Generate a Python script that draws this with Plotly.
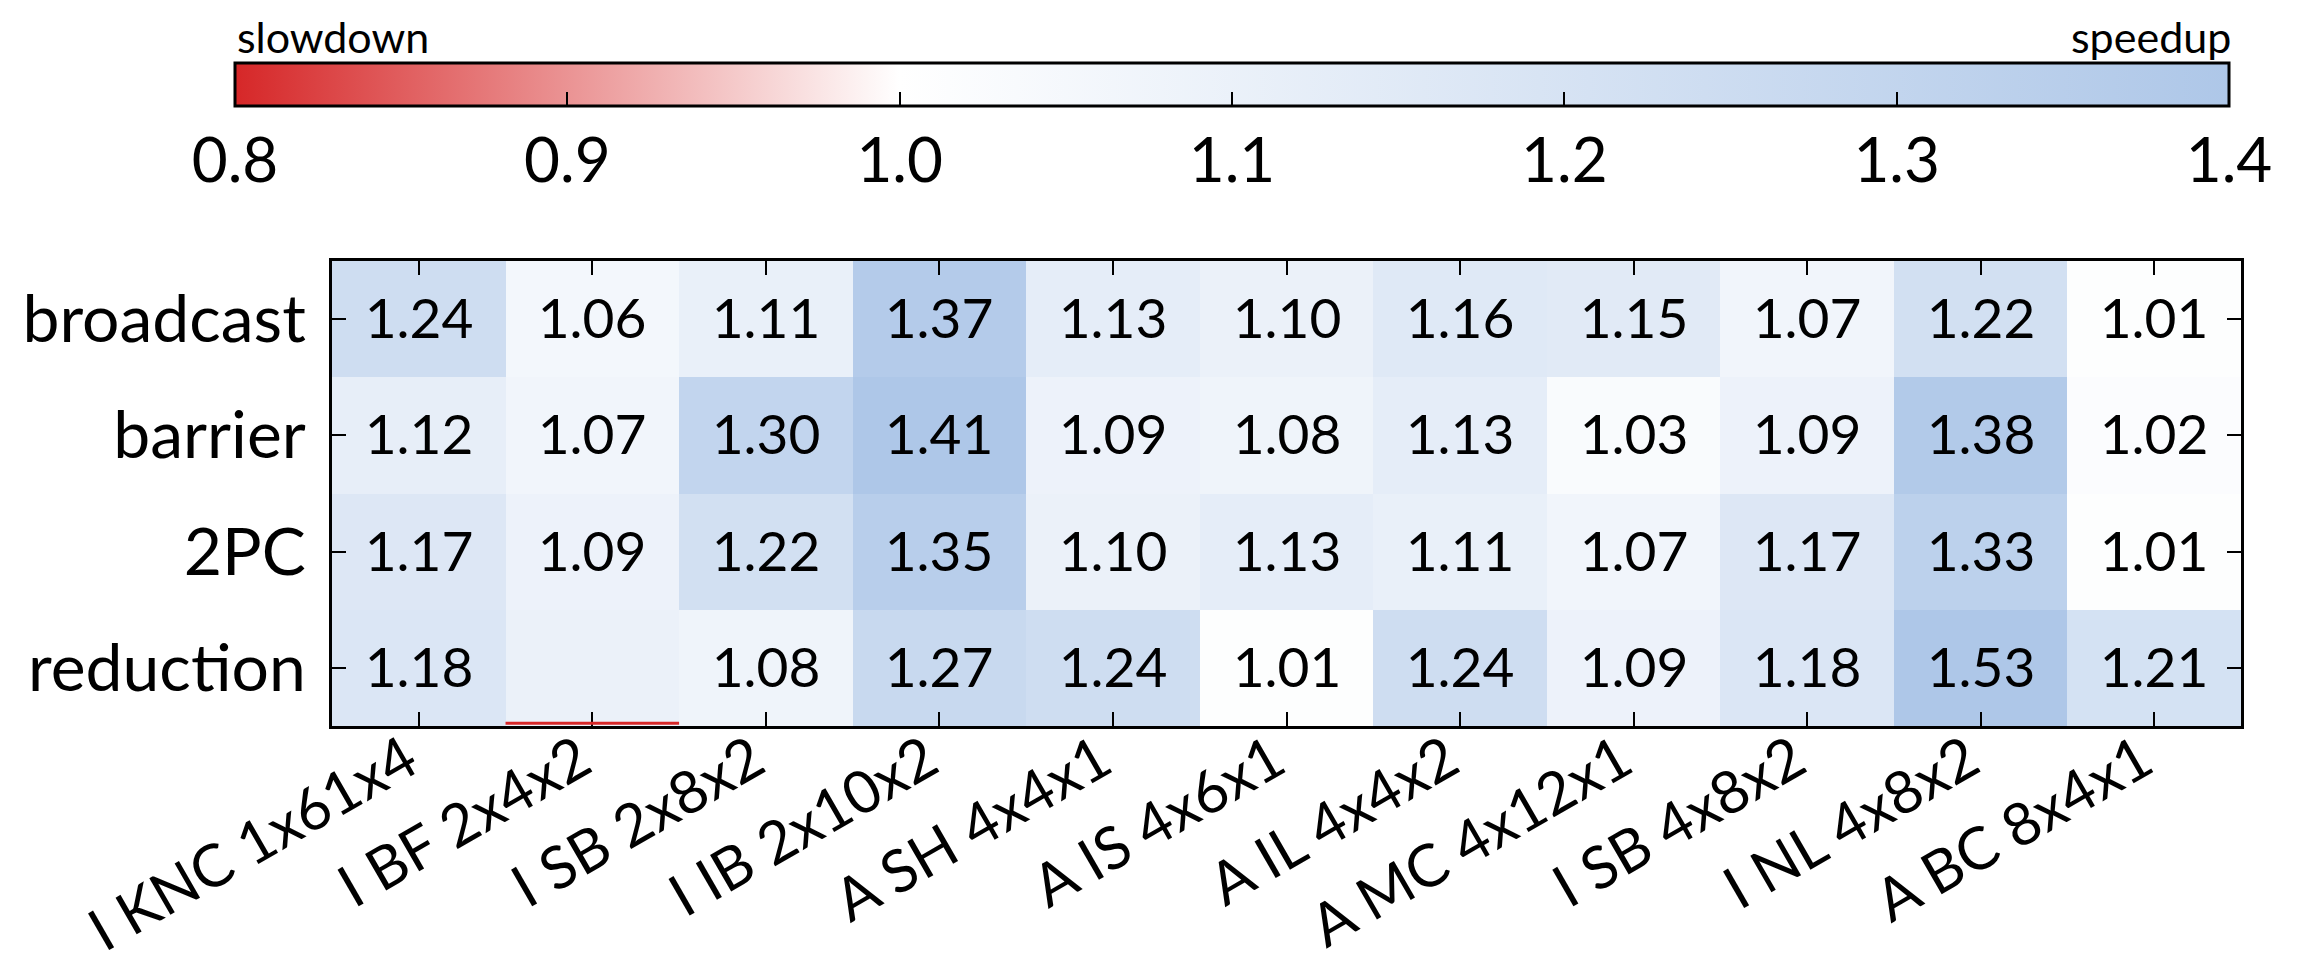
import plotly.graph_objects as go

configs = ["I KNC 1x61x4", "I BF 2x4x2", "I SB 2x8x2", "I IB 2x10x2", "A SH 4x4x1",
           "A IS 4x6x1", "A IL 4x4x2", "A MC 4x12x1", "I SB 4x8x2", "I NL 4x8x2", "A BC 8x4x1"]
operations = ["broadcast", "barrier", "2PC", "reduction"]

broadcast = [1.24, 1.06, 1.11, 1.37, 1.13, 1.10, 1.16, 1.15, 1.07, 1.22, 1.01]
barrier = [1.12, 1.07, 1.30, 1.41, 1.09, 1.08, 1.13, 1.03, 1.09, 1.38, 1.02]
two_pc = [1.17, 1.09, 1.22, 1.35, 1.10, 1.13, 1.11, 1.07, 1.17, 1.33, 1.01]
reduction = [1.18, 1.10, 1.08, 1.27, 1.24, 1.01, 1.24, 1.09, 1.18, 1.53, 1.21]
reduction_shown = [True, False, True, True, True, True, True, True, True, True, True]

cbar_ticks = [0.8, 0.9, 1.0, 1.1, 1.2, 1.3, 1.4]
zmin, zmax = 0.8, 1.4

z = [broadcast, barrier, two_pc, reduction]
text = [[f"{v:.2f}" for v in row] for row in [broadcast, barrier, two_pc]]
text.append([f"{v:.2f}" if s else "" for v, s in zip(reduction, reduction_shown)])

FONT = "Lato"
W, H = 2300, 964
L, R, T, B = 324, 2233, 253, 718
pw, ph = R - L, B - T

def px(x):
    return (x - L) / pw

def py(y):
    return (B - y) / ph

colorscale = [[0.0, "#d62728"], [(1.0 - zmin) / (zmax - zmin), "#ffffff"], [1.0, "#aec7e8"]]

fig = go.Figure(go.Heatmap(
    z=z, x=configs, y=operations,
    zmin=zmin, zmax=zmax, colorscale=colorscale,
    text=text, texttemplate="%{text}",
    textfont=dict(family=FONT, size=55, color="black"),
    xgap=0, ygap=0,
    colorbar=dict(
        orientation="h",
        x=px(227), xanchor="left",
        y=py(55), yanchor="top",
        len=(2221 - 227) / pw, lenmode="fraction",
        thickness=43, thicknessmode="pixels",
        xpad=0, ypad=0,
        outlinewidth=3, outlinecolor="black",
        tickvals=cbar_ticks, ticktext=[f"{t:.1f}" for t in cbar_ticks],
        ticks="inside", ticklen=15, tickwidth=2, tickcolor="black",
        tickfont=dict(family=FONT, size=62, color="black"),
    ),
))

axis_common = dict(
    showline=True, linewidth=3, linecolor="black", mirror="allticks",
    ticks="inside", ticklen=14, tickwidth=2, tickcolor="black",
    showgrid=False, zeroline=False,
)

fig.update_xaxes(**axis_common, tickangle=-30, ticklabelstandoff=-26, ticklabelshift=-12,
                 tickfont=dict(family=FONT, size=59, color="black"))
fig.update_yaxes(**axis_common, autorange="reversed", ticklabelstandoff=10,
                 tickfont=dict(family=FONT, size=66, color="black"))

fig.add_shape(type="line", xref="x", yref="paper", x0=0.5, x1=1.5, y0=0.006, y1=0.006,
              line=dict(color="#d62728", width=3), layer="above")

fig.add_annotation(text="slowdown", xref="paper", yref="paper", x=px(227), y=py(1),
                   xanchor="left", yanchor="top", showarrow=False,
                   font=dict(family=FONT, size=43, color="black"))
fig.add_annotation(text="speedup", xref="paper", yref="paper", x=px(2225), y=py(1),
                   xanchor="right", yanchor="top", showarrow=False,
                   font=dict(family=FONT, size=43, color="black"))

fig.update_layout(
    width=W, height=H,
    margin=dict(l=L, r=W - R, t=T, b=H - B, autoexpand=False),
    paper_bgcolor="white", plot_bgcolor="white",
)

fig.write_html("out.html")
